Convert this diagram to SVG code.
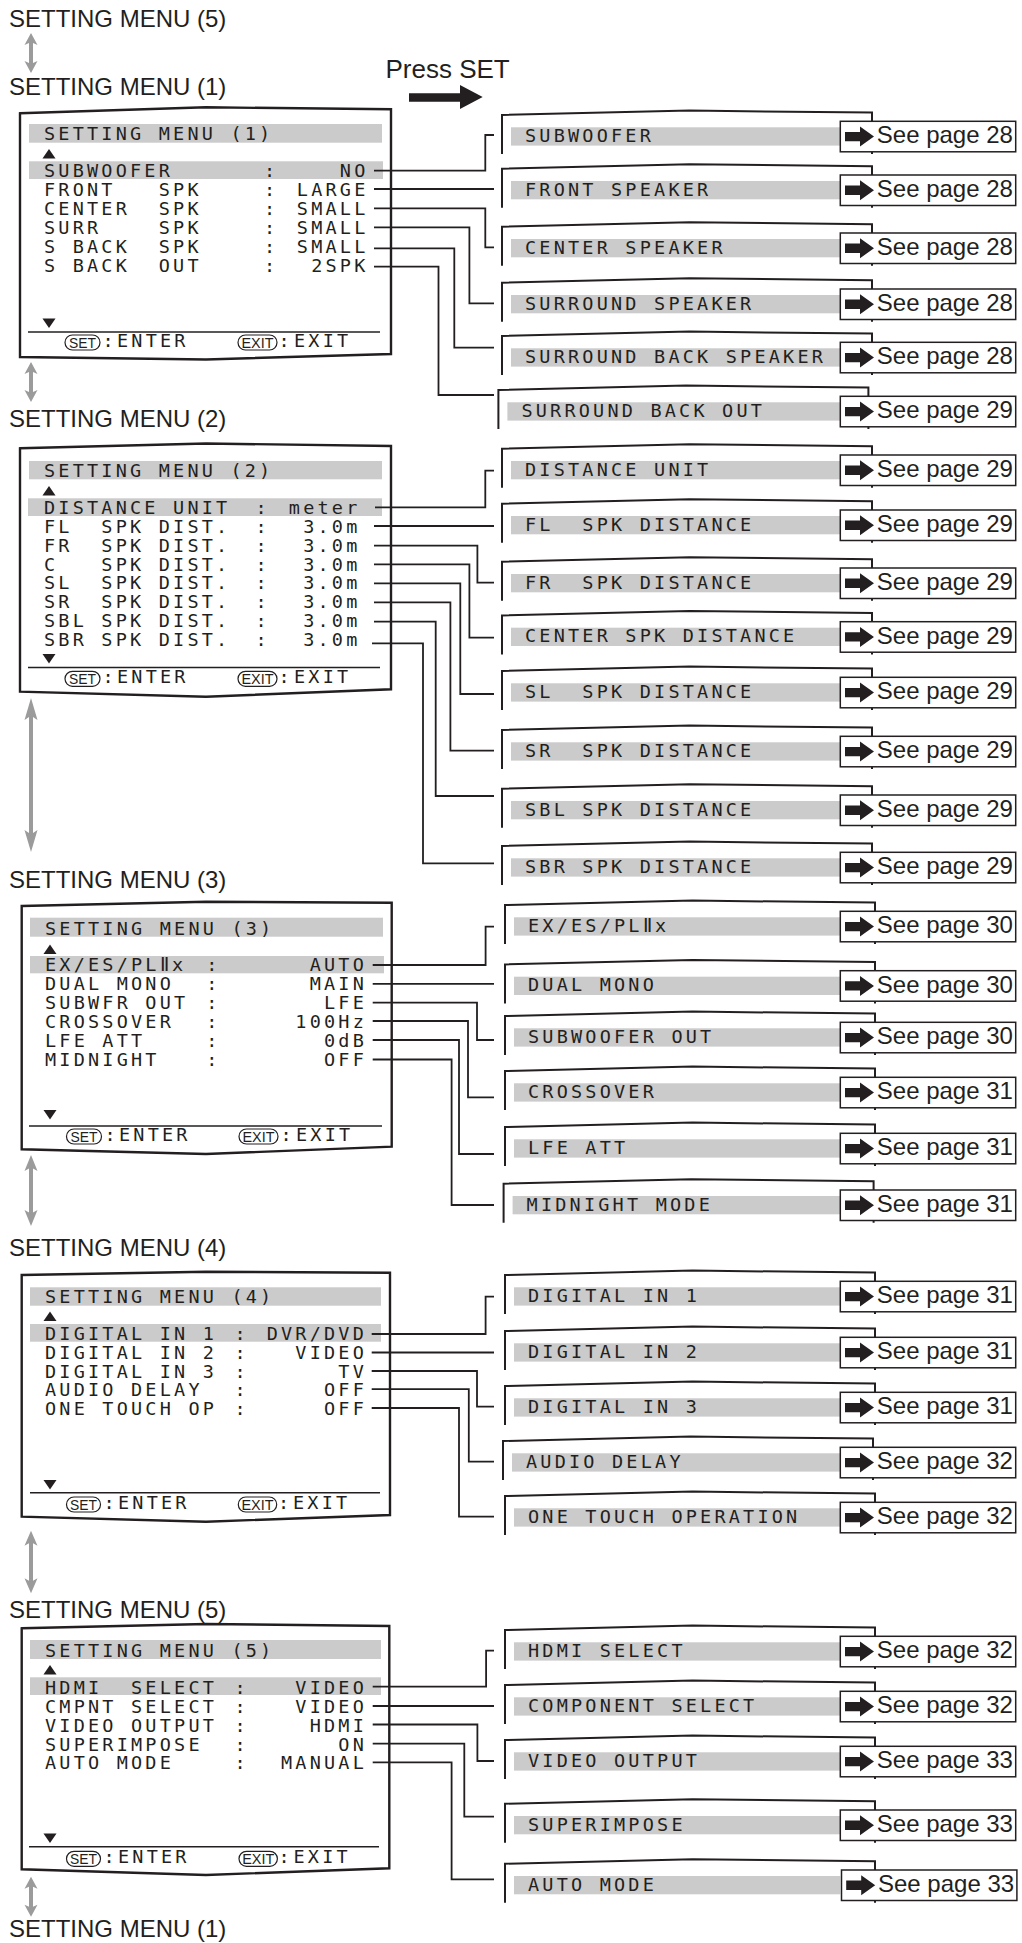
<svg xmlns="http://www.w3.org/2000/svg" xmlns:xlink="http://www.w3.org/1999/xlink" width="1022" height="1943" viewBox="0 0 1022 1943" xml:space="preserve">
<style>
.hdr{font-family:"Liberation Sans",Arial,sans-serif;font-size:24px;fill:#231f20}
.osd{font-family:"DejaVu Sans Mono","Liberation Mono",monospace;font-size:18.5px;letter-spacing:3.2px;fill:#231f20;white-space:pre}
.val{text-anchor:end}
.pg{font-family:"Liberation Sans",Arial,sans-serif;font-size:24px;fill:#231f20}
.pill{fill:#fff;stroke:#231f20;stroke-width:1.2}
.pt{font-family:"Liberation Sans",Arial,sans-serif;font-size:14.5px;fill:#231f20;text-anchor:middle}
.bar{fill:#cbcbcb}
.scr{fill:#fff;stroke:#231f20;stroke-width:2.4;stroke-linejoin:miter}
.frm{fill:none;stroke:#231f20;stroke-width:2}
.con{fill:none;stroke:#231f20;stroke-width:1.8}
.rule{stroke:#231f20;stroke-width:1.5}
.seeb{fill:#fff;stroke:#231f20;stroke-width:1.5}
.blk{fill:#231f20}
.garrow{fill:#9b9b9b}
</style>
<defs>
<path id="frm" class="frm" d="M0,26.7 V-12.3 L187.6,-16.7 L370,-14.7 V26.7"/>
<g id="see"><rect class="seeb" x="0" y="0" width="175.4" height="30.5"/><path class="blk" d="M4.7,10.6 H19.7 V5.25 L33.7,15.25 L19.7,25.25 V19.9 H4.7 Z"/></g>
<path id="tup" class="blk" d="M49,0 L55.5,9.5 L42.5,9.5 Z"/>
<path id="tdn" class="blk" d="M42.5,0 H55.5 L49,9.5 Z"/>
</defs>

<g id="headers">
<text class="hdr" x="9" y="27">SETTING MENU (5)</text>
<text class="hdr" x="9" y="95">SETTING MENU (1)</text>
<text class="hdr" x="9" y="426.7">SETTING MENU (2)</text>
<text class="hdr" x="9" y="888.3">SETTING MENU (3)</text>
<text class="hdr" x="9" y="1256">SETTING MENU (4)</text>
<text class="hdr" x="9" y="1618.3">SETTING MENU (5)</text>
<text class="hdr" x="9" y="1936.7">SETTING MENU (1)</text>
</g>

<g id="nav-arrows">
<path class="garrow" d="M31,33 L37.5,45 L33,43 V63 L37.5,61 L31,73 L24.5,61 L29,63 V43 L24.5,45 Z"/>
<path class="garrow" d="M31,362 L37.5,374 L33,372 V392 L37.5,390 L31,402 L24.5,390 L29,392 V372 L24.5,374 Z"/>
<path class="garrow" d="M31,698 L37.5,720 L33,717 V833 L37.5,830 L31,852 L24.5,830 L29,833 V717 L24.5,720 Z"/>
<path class="garrow" d="M31,1155 L37.5,1171 L33,1168.5 V1212.5 L37.5,1210 L31,1226 L24.5,1210 L29,1212.5 V1168.5 L24.5,1171 Z"/>
<path class="garrow" d="M31,1530.7 L37.5,1545.7 L33,1543.2 V1580.8 L37.5,1578.3 L31,1593.3 L24.5,1578.3 L29,1580.8 V1543.2 L24.5,1545.7 Z"/>
<path class="garrow" d="M31,1876.7 L37.5,1888.7 L33,1886.7 V1906.7 L37.5,1904.7 L31,1916.7 L24.5,1904.7 L29,1906.7 V1886.7 L24.5,1888.7 Z"/>
</g>

<g id="press-set">
<text class="hdr" x="385.5" y="78" style="font-size:26px">Press SET</text>
<path class="blk" d="M409,93.3 H460 V85 L482.7,97 L460,109 V101.7 H409 Z"/>
</g>

<g id="menu1">
<path class="scr" d="M20,113.3 L206,107.3 L391,109.3 L391,354 L206,359.5 L20,357 Z"/>
<rect class="bar" x="29" y="124" width="353" height="18.7"/>
<text class="osd" x="44" y="140">SETTING MENU (1)</text>
<use xlink:href="#tup" y="149"/>
<rect class="bar" x="29" y="161.3" width="354" height="17.7"/>
<text class="osd" x="44" y="177.3">SUBWOOFER</text><text class="osd" x="263.9" y="177.3">:</text><text class="osd val" x="368.5" y="177.3">NO</text>
<text class="osd" x="44" y="196.2">FRONT   SPK</text><text class="osd" x="263.9" y="196.2">:</text><text class="osd val" x="368.5" y="196.2">LARGE</text>
<text class="osd" x="44" y="215.1">CENTER  SPK</text><text class="osd" x="263.9" y="215.1">:</text><text class="osd val" x="368.5" y="215.1">SMALL</text>
<text class="osd" x="44" y="234.1">SURR    SPK</text><text class="osd" x="263.9" y="234.1">:</text><text class="osd val" x="368.5" y="234.1">SMALL</text>
<text class="osd" x="44" y="253.1">S BACK  SPK</text><text class="osd" x="263.9" y="253.1">:</text><text class="osd val" x="368.5" y="253.1">SMALL</text>
<text class="osd" x="44" y="272">S BACK  OUT</text><text class="osd" x="263.9" y="272">:</text><text class="osd val" x="368.5" y="272">2SPK</text>
<use xlink:href="#tdn" y="318.5"/>
<line class="rule" x1="28" y1="332" x2="380" y2="332"/>
<rect class="pill" x="65" y="335" width="35" height="15" rx="7.5"/><text class="pt" x="82.5" y="348" textLength="27" lengthAdjust="spacingAndGlyphs">SET</text>
<text class="osd" x="102.6" y="347">:</text><text class="osd" x="117" y="347">ENTER</text>
<rect class="pill" x="238" y="335" width="39" height="15" rx="7.5"/><text class="pt" x="257.5" y="348" textLength="32" lengthAdjust="spacingAndGlyphs">EXIT</text>
<text class="osd" x="278.6" y="347">:</text><text class="osd" x="294" y="347">EXIT</text>
</g>

<g id="menu2">
<path class="scr" d="M20,448.3 L206,443.5 L391,446 L391,689.3 L206,696.7 L20,691.7 Z"/>
<rect class="bar" x="29" y="461" width="353" height="18.3"/>
<text class="osd" x="44" y="477">SETTING MENU (2)</text>
<use xlink:href="#tup" y="486"/>
<rect class="bar" x="28" y="498.3" width="354" height="17.7"/>
<text class="osd" x="44" y="514">DISTANCE UNIT</text><text class="osd" x="255.6" y="514">:</text><text class="osd val" x="360.5" y="514">meter</text>
<text class="osd" x="44" y="532.7">FL  SPK DIST.</text><text class="osd" x="255.6" y="532.7">:</text><text class="osd val" x="360.5" y="532.7">3.0m</text>
<text class="osd" x="44" y="551.7">FR  SPK DIST.</text><text class="osd" x="255.6" y="551.7">:</text><text class="osd val" x="360.5" y="551.7">3.0m</text>
<text class="osd" x="44" y="570.7">C   SPK DIST.</text><text class="osd" x="255.6" y="570.7">:</text><text class="osd val" x="360.5" y="570.7">3.0m</text>
<text class="osd" x="44" y="589.3">SL  SPK DIST.</text><text class="osd" x="255.6" y="589.3">:</text><text class="osd val" x="360.5" y="589.3">3.0m</text>
<text class="osd" x="44" y="608.3">SR  SPK DIST.</text><text class="osd" x="255.6" y="608.3">:</text><text class="osd val" x="360.5" y="608.3">3.0m</text>
<text class="osd" x="44" y="627.3">SBL SPK DIST.</text><text class="osd" x="255.6" y="627.3">:</text><text class="osd val" x="360.5" y="627.3">3.0m</text>
<text class="osd" x="44" y="646">SBR SPK DIST.</text><text class="osd" x="255.6" y="646">:</text><text class="osd val" x="360.5" y="646">3.0m</text>
<use xlink:href="#tdn" y="654"/>
<line class="rule" x1="28" y1="667.5" x2="380" y2="667.5"/>
<rect class="pill" x="65" y="671.3" width="35" height="15" rx="7.5"/><text class="pt" x="82.5" y="684.3" textLength="27" lengthAdjust="spacingAndGlyphs">SET</text>
<text class="osd" x="102.6" y="683.3">:</text><text class="osd" x="117" y="683.3">ENTER</text>
<rect class="pill" x="238" y="671.3" width="39" height="15" rx="7.5"/><text class="pt" x="257.5" y="684.3" textLength="32" lengthAdjust="spacingAndGlyphs">EXIT</text>
<text class="osd" x="278.6" y="683.3">:</text><text class="osd" x="294" y="683.3">EXIT</text>
</g>

<g id="menu3">
<path class="scr" d="M21.7,906 L206,901.7 L391.7,902.7 L391.7,1146.7 L206,1154 L21.7,1149.3 Z"/>
<rect class="bar" x="30" y="917.7" width="353" height="19"/>
<text class="osd" x="45" y="935">SETTING MENU (3)</text>
<use xlink:href="#tup" x="1" y="944.5"/>
<rect class="bar" x="30" y="956" width="354" height="17.3"/>
<text class="osd" x="45" y="970.7">EX/ES/PLⅡx</text><text class="osd" x="206.3" y="970.7">:</text><text class="osd val" x="367" y="970.7">AUTO</text>
<text class="osd" x="45" y="990">DUAL MONO</text><text class="osd" x="206.3" y="990">:</text><text class="osd val" x="367" y="990">MAIN</text>
<text class="osd" x="45" y="1009">SUBWFR OUT</text><text class="osd" x="206.3" y="1009">:</text><text class="osd val" x="367" y="1009">LFE</text>
<text class="osd" x="45" y="1027.7">CROSSOVER</text><text class="osd" x="206.3" y="1027.7">:</text><text class="osd val" x="367" y="1027.7">100Hz</text>
<text class="osd" x="45" y="1046.7">LFE ATT</text><text class="osd" x="206.3" y="1046.7">:</text><text class="osd val" x="367" y="1046.7">0dB</text>
<text class="osd" x="45" y="1065.7">MIDNIGHT</text><text class="osd" x="206.3" y="1065.7">:</text><text class="osd val" x="367" y="1065.7">OFF</text>
<use xlink:href="#tdn" x="1" y="1110"/>
<line class="rule" x1="29" y1="1126" x2="382" y2="1126"/>
<rect class="pill" x="66.5" y="1129" width="35" height="15" rx="7.5"/><text class="pt" x="84" y="1142" textLength="27" lengthAdjust="spacingAndGlyphs">SET</text>
<text class="osd" x="104.5" y="1141">:</text><text class="osd" x="119" y="1141">ENTER</text>
<rect class="pill" x="239" y="1129" width="39" height="15" rx="7.5"/><text class="pt" x="258.5" y="1142" textLength="32" lengthAdjust="spacingAndGlyphs">EXIT</text>
<text class="osd" x="280.5" y="1141">:</text><text class="osd" x="296" y="1141">EXIT</text>
</g>

<g id="menu4">
<path class="scr" d="M21.7,1275 L206,1271.7 L390,1272.7 L390,1515 L206,1521.7 L21.7,1516.7 Z"/>
<rect class="bar" x="30" y="1287.3" width="351" height="18.4"/>
<text class="osd" x="45" y="1303.3">SETTING MENU (4)</text>
<use xlink:href="#tup" x="1" y="1311.5"/>
<rect class="bar" x="30" y="1324" width="351" height="17.7"/>
<text class="osd" x="45" y="1340">DIGITAL IN 1</text><text class="osd" x="234.6" y="1340">:</text><text class="osd val" x="367" y="1340">DVR/DVD</text>
<text class="osd" x="45" y="1359">DIGITAL IN 2</text><text class="osd" x="234.6" y="1359">:</text><text class="osd val" x="367" y="1359">VIDEO</text>
<text class="osd" x="45" y="1377.7">DIGITAL IN 3</text><text class="osd" x="234.6" y="1377.7">:</text><text class="osd val" x="367" y="1377.7">TV</text>
<text class="osd" x="45" y="1396">AUDIO DELAY</text><text class="osd" x="234.6" y="1396">:</text><text class="osd val" x="367" y="1396">OFF</text>
<text class="osd" x="45" y="1415">ONE TOUCH OP</text><text class="osd" x="234.6" y="1415">:</text><text class="osd val" x="367" y="1415">OFF</text>
<use xlink:href="#tdn" x="1" y="1480"/>
<line class="rule" x1="30" y1="1492.7" x2="380" y2="1492.7"/>
<rect class="pill" x="66.5" y="1497" width="34" height="15" rx="7.5"/><text class="pt" x="83.5" y="1510" textLength="27" lengthAdjust="spacingAndGlyphs">SET</text>
<text class="osd" x="103.6" y="1509">:</text><text class="osd" x="118" y="1509">ENTER</text>
<rect class="pill" x="238.3" y="1497" width="38.4" height="15" rx="7.5"/><text class="pt" x="257.5" y="1510" textLength="32" lengthAdjust="spacingAndGlyphs">EXIT</text>
<text class="osd" x="278" y="1509">:</text><text class="osd" x="293" y="1509">EXIT</text>
</g>

<g id="menu5">
<path class="scr" d="M21.7,1628.3 L206,1624 L389.3,1626 L389.3,1868.3 L206,1875 L21.7,1869.3 Z"/>
<rect class="bar" x="30" y="1640" width="351" height="19"/>
<text class="osd" x="45" y="1656.7">SETTING MENU (5)</text>
<use xlink:href="#tup" x="1" y="1665"/>
<rect class="bar" x="30" y="1677.3" width="351" height="17.7"/>
<text class="osd" x="45" y="1694">HDMI  SELECT</text><text class="osd" x="234.6" y="1694">:</text><text class="osd val" x="367" y="1694">VIDEO</text>
<text class="osd" x="45" y="1713.3">CMPNT SELECT</text><text class="osd" x="234.6" y="1713.3">:</text><text class="osd val" x="367" y="1713.3">VIDEO</text>
<text class="osd" x="45" y="1731.7">VIDEO OUTPUT</text><text class="osd" x="234.6" y="1731.7">:</text><text class="osd val" x="367" y="1731.7">HDMI</text>
<text class="osd" x="45" y="1750.7">SUPERIMPOSE</text><text class="osd" x="234.6" y="1750.7">:</text><text class="osd val" x="367" y="1750.7">ON</text>
<text class="osd" x="45" y="1769.3">AUTO MODE</text><text class="osd" x="234.6" y="1769.3">:</text><text class="osd val" x="367" y="1769.3">MANUAL</text>
<use xlink:href="#tdn" x="1" y="1833.5"/>
<line class="rule" x1="29" y1="1846.7" x2="379" y2="1846.7"/>
<rect class="pill" x="66.5" y="1851.3" width="34" height="15" rx="7.5"/><text class="pt" x="83.5" y="1864.3" textLength="27" lengthAdjust="spacingAndGlyphs">SET</text>
<text class="osd" x="103.6" y="1863.3">:</text><text class="osd" x="118" y="1863.3">ENTER</text>
<rect class="pill" x="239" y="1851.3" width="38.4" height="15" rx="7.5"/><text class="pt" x="258.2" y="1864.3" textLength="32" lengthAdjust="spacingAndGlyphs">EXIT</text>
<text class="osd" x="278.6" y="1863.3">:</text><text class="osd" x="293.5" y="1863.3">EXIT</text>
</g>

<g id="connectors">
<path class="con" d="M374,170.7 H485.3 V135 H494"/>
<path class="con" d="M374,189 H494"/>
<path class="con" d="M374,208.3 H485.3 V247.3 H494"/>
<path class="con" d="M374,227.3 H469.4 V303.3 H494"/>
<path class="con" d="M374,248.3 H454.3 V347.7 H494"/>
<path class="con" d="M374,266.7 H438.5 V395 H494"/>
<path class="con" d="M375,507.3 H485.3 V470.7 H494"/>
<path class="con" d="M374,526 H494"/>
<path class="con" d="M374,545.7 H477.4 V582.7 H494"/>
<path class="con" d="M374,564.3 H469.4 V637.7 H494"/>
<path class="con" d="M374,583.3 H460.3 V694 H494"/>
<path class="con" d="M374,602.3 H450.4 V750.7 H494"/>
<path class="con" d="M374,621.7 H435.7 V796 H494"/>
<path class="con" d="M372,643.3 H423 V863.3 H494"/>
<path class="con" d="M372.7,965 H485.6 V926.7 H494"/>
<path class="con" d="M372.7,983.8 H494"/>
<path class="con" d="M372.7,1002.7 H477 V1040 H494"/>
<path class="con" d="M372.7,1021 H468 V1097.3 H494"/>
<path class="con" d="M372.7,1040 H459 V1154 H494"/>
<path class="con" d="M372.7,1059.5 H451.6 V1205 H494"/>
<path class="con" d="M371.7,1334 H485.6 V1296.7 H494"/>
<path class="con" d="M371.7,1352.5 H494"/>
<path class="con" d="M371.7,1371 H477 V1406.7 H494"/>
<path class="con" d="M371.7,1389.2 H468.8 V1461.7 H494"/>
<path class="con" d="M371.7,1408 H459 V1516.7 H494"/>
<path class="con" d="M372.7,1686.7 H486.1 V1650.7 H494"/>
<path class="con" d="M372.7,1706 H494"/>
<path class="con" d="M372.7,1724.5 H477.4 V1761 H494"/>
<path class="con" d="M372.7,1743.7 H464.3 V1816.7 H494"/>
<path class="con" d="M372.7,1762.3 H451.6 V1879.3 H494"/>
</g>

<g id="sub-subwoofer"><use xlink:href="#frm" x="502" y="127.3"/><rect class="bar" x="511" y="127.3" width="329.3" height="18.3"/><text class="osd" x="525" y="142">SUBWOOFER</text><use xlink:href="#see" x="840.3" y="121.3"/><text class="pg" x="876.8" y="143.3">See page 28</text></g>
<g id="sub-front"><use xlink:href="#frm" x="502" y="181"/><rect class="bar" x="511" y="181" width="329.3" height="18.3"/><text class="osd" x="525" y="195.7">FRONT SPEAKER</text><use xlink:href="#see" x="840.3" y="175"/><text class="pg" x="876.8" y="197">See page 28</text></g>
<g id="sub-center"><use xlink:href="#frm" x="502" y="239"/><rect class="bar" x="511" y="239" width="329.3" height="18.3"/><text class="osd" x="525" y="253.7">CENTER SPEAKER</text><use xlink:href="#see" x="840.3" y="233"/><text class="pg" x="876.8" y="255">See page 28</text></g>
<g id="sub-surround"><use xlink:href="#frm" x="502" y="295"/><rect class="bar" x="511" y="295" width="329.3" height="18.3"/><text class="osd" x="525" y="309.7">SURROUND SPEAKER</text><use xlink:href="#see" x="840.3" y="289"/><text class="pg" x="876.8" y="311">See page 28</text></g>
<g id="sub-sbspk"><use xlink:href="#frm" x="502" y="348.3"/><rect class="bar" x="511" y="348.3" width="329.3" height="18.3"/><text class="osd" x="525" y="363">SURROUND BACK SPEAKER</text><use xlink:href="#see" x="840.3" y="342.3"/><text class="pg" x="876.8" y="364.3">See page 28</text></g>
<g id="sub-sbout"><use xlink:href="#frm" x="498.4" y="402.3"/><rect class="bar" x="507.4" y="402.3" width="332.9" height="18.3"/><text class="osd" x="521.4" y="417">SURROUND BACK OUT</text><use xlink:href="#see" x="840.3" y="396.3"/><text class="pg" x="876.8" y="418.3">See page 29</text></g>

<g id="sub-distunit"><use xlink:href="#frm" x="502" y="461"/><rect class="bar" x="511" y="461" width="329.3" height="18.3"/><text class="osd" x="525" y="475.7">DISTANCE UNIT</text><use xlink:href="#see" x="840.3" y="455"/><text class="pg" x="876.8" y="477">See page 29</text></g>
<g id="sub-fl"><use xlink:href="#frm" x="502" y="516"/><rect class="bar" x="511" y="516" width="329.3" height="18.3"/><text class="osd" x="525" y="530.7">FL  SPK DISTANCE</text><use xlink:href="#see" x="840.3" y="510"/><text class="pg" x="876.8" y="532">See page 29</text></g>
<g id="sub-fr"><use xlink:href="#frm" x="502" y="574"/><rect class="bar" x="511" y="574" width="329.3" height="18.3"/><text class="osd" x="525" y="588.7">FR  SPK DISTANCE</text><use xlink:href="#see" x="840.3" y="568"/><text class="pg" x="876.8" y="590">See page 29</text></g>
<g id="sub-c"><use xlink:href="#frm" x="502" y="627.7"/><rect class="bar" x="511" y="627.7" width="329.3" height="18.3"/><text class="osd" x="525" y="642.4">CENTER SPK DISTANCE</text><use xlink:href="#see" x="840.3" y="621.7"/><text class="pg" x="876.8" y="643.7">See page 29</text></g>
<g id="sub-sl"><use xlink:href="#frm" x="502" y="683.3"/><rect class="bar" x="511" y="683.3" width="329.3" height="18.3"/><text class="osd" x="525" y="698">SL  SPK DISTANCE</text><use xlink:href="#see" x="840.3" y="677.3"/><text class="pg" x="876.8" y="699.3">See page 29</text></g>
<g id="sub-sr"><use xlink:href="#frm" x="502" y="742.3"/><rect class="bar" x="511" y="742.3" width="329.3" height="18.3"/><text class="osd" x="525" y="757">SR  SPK DISTANCE</text><use xlink:href="#see" x="840.3" y="736.3"/><text class="pg" x="876.8" y="758.3">See page 29</text></g>
<g id="sub-sbl"><use xlink:href="#frm" x="502" y="801"/><rect class="bar" x="511" y="801" width="329.3" height="18.3"/><text class="osd" x="525" y="815.7">SBL SPK DISTANCE</text><use xlink:href="#see" x="840.3" y="795"/><text class="pg" x="876.8" y="817">See page 29</text></g>
<g id="sub-sbr"><use xlink:href="#frm" x="502" y="858.3"/><rect class="bar" x="511" y="858.3" width="329.3" height="18.3"/><text class="osd" x="525" y="873">SBR SPK DISTANCE</text><use xlink:href="#see" x="840.3" y="852.3"/><text class="pg" x="876.8" y="874.3">See page 29</text></g>

<g id="sub-ex"><use xlink:href="#frm" x="505" y="917.3"/><rect class="bar" x="514" y="917.3" width="326.3" height="18.3"/><text class="osd" x="528" y="932">EX/ES/PLⅡx</text><use xlink:href="#see" x="840.3" y="911.3"/><text class="pg" x="876.8" y="933.3">See page 30</text></g>
<g id="sub-dual"><use xlink:href="#frm" x="505" y="976.7"/><rect class="bar" x="514" y="976.7" width="326.3" height="18.3"/><text class="osd" x="528" y="991.4">DUAL MONO</text><use xlink:href="#see" x="840.3" y="970.7"/><text class="pg" x="876.8" y="992.7">See page 30</text></g>
<g id="sub-swout"><use xlink:href="#frm" x="505" y="1028.3"/><rect class="bar" x="514" y="1028.3" width="326.3" height="18.3"/><text class="osd" x="528" y="1043">SUBWOOFER OUT</text><use xlink:href="#see" x="840.3" y="1022.3"/><text class="pg" x="876.8" y="1044.3">See page 30</text></g>
<g id="sub-cross"><use xlink:href="#frm" x="505" y="1083.3"/><rect class="bar" x="514" y="1083.3" width="326.3" height="18.3"/><text class="osd" x="528" y="1098">CROSSOVER</text><use xlink:href="#see" x="840.3" y="1077.3"/><text class="pg" x="876.8" y="1099.3">See page 31</text></g>
<g id="sub-lfe"><use xlink:href="#frm" x="505" y="1139.3"/><rect class="bar" x="514" y="1139.3" width="326.3" height="18.3"/><text class="osd" x="528" y="1154">LFE ATT</text><use xlink:href="#see" x="840.3" y="1133.3"/><text class="pg" x="876.8" y="1155.3">See page 31</text></g>
<g id="sub-midnight"><use xlink:href="#frm" x="503.6" y="1196"/><rect class="bar" x="512.6" y="1196" width="327.7" height="18.3"/><text class="osd" x="526.6" y="1210.7">MIDNIGHT MODE</text><use xlink:href="#see" x="840.3" y="1190"/><text class="pg" x="876.8" y="1212">See page 31</text></g>

<g id="sub-dig1"><use xlink:href="#frm" x="505" y="1287.3"/><rect class="bar" x="514" y="1287.3" width="326.3" height="18.3"/><text class="osd" x="528" y="1302">DIGITAL IN 1</text><use xlink:href="#see" x="840.3" y="1281.3"/><text class="pg" x="876.8" y="1303.3">See page 31</text></g>
<g id="sub-dig2"><use xlink:href="#frm" x="505" y="1343.3"/><rect class="bar" x="514" y="1343.3" width="326.3" height="18.3"/><text class="osd" x="528" y="1358">DIGITAL IN 2</text><use xlink:href="#see" x="840.3" y="1337.3"/><text class="pg" x="876.8" y="1359.3">See page 31</text></g>
<g id="sub-dig3"><use xlink:href="#frm" x="505" y="1398.3"/><rect class="bar" x="514" y="1398.3" width="326.3" height="18.3"/><text class="osd" x="528" y="1413">DIGITAL IN 3</text><use xlink:href="#see" x="840.3" y="1392.3"/><text class="pg" x="876.8" y="1414.3">See page 31</text></g>
<g id="sub-audio"><use xlink:href="#frm" x="503" y="1453.3"/><rect class="bar" x="512" y="1453.3" width="328.3" height="18.3"/><text class="osd" x="526" y="1468">AUDIO DELAY</text><use xlink:href="#see" x="840.3" y="1447.3"/><text class="pg" x="876.8" y="1469.3">See page 32</text></g>
<g id="sub-onetouch"><use xlink:href="#frm" x="505" y="1508.3"/><rect class="bar" x="514" y="1508.3" width="326.3" height="18.3"/><text class="osd" x="528" y="1523">ONE TOUCH OPERATION</text><use xlink:href="#see" x="840.3" y="1502.3"/><text class="pg" x="876.8" y="1524.3">See page 32</text></g>

<g id="sub-hdmi"><use xlink:href="#frm" x="505" y="1642.3"/><rect class="bar" x="514" y="1642.3" width="326.3" height="18.3"/><text class="osd" x="528" y="1657">HDMI SELECT</text><use xlink:href="#see" x="840.3" y="1636.3"/><text class="pg" x="876.8" y="1658.3">See page 32</text></g>
<g id="sub-component"><use xlink:href="#frm" x="505" y="1697.3"/><rect class="bar" x="514" y="1697.3" width="326.3" height="18.3"/><text class="osd" x="528" y="1712">COMPONENT SELECT</text><use xlink:href="#see" x="840.3" y="1691.3"/><text class="pg" x="876.8" y="1713.3">See page 32</text></g>
<g id="sub-vout"><use xlink:href="#frm" x="505" y="1752.3"/><rect class="bar" x="514" y="1752.3" width="326.3" height="18.3"/><text class="osd" x="528" y="1767">VIDEO OUTPUT</text><use xlink:href="#see" x="840.3" y="1746.3"/><text class="pg" x="876.8" y="1768.3">See page 33</text></g>
<g id="sub-super"><use xlink:href="#frm" x="505" y="1816"/><rect class="bar" x="514" y="1816" width="326.3" height="18.3"/><text class="osd" x="528" y="1830.7">SUPERIMPOSE</text><use xlink:href="#see" x="840.3" y="1810"/><text class="pg" x="876.8" y="1832">See page 33</text></g>
<g id="sub-automode"><use xlink:href="#frm" x="505" y="1876"/><rect class="bar" x="514" y="1876" width="326.3" height="18.3"/><text class="osd" x="528" y="1890.7">AUTO MODE</text><use xlink:href="#see" x="841.5" y="1870"/><text class="pg" x="878" y="1892">See page 33</text></g>
</svg>
